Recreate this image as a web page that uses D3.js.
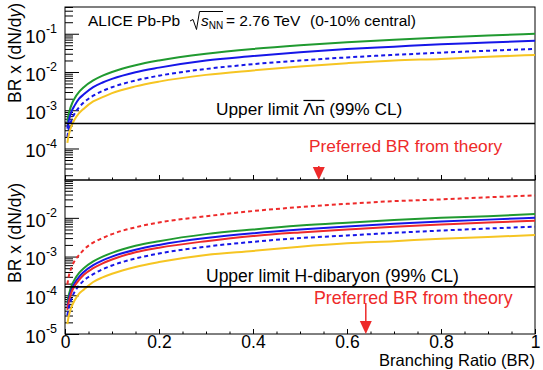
<!DOCTYPE html>
<html>
<head>
<meta charset="utf-8">
<script src="https://cdn.jsdelivr.net/npm/d3@7"></script>
<style>
  body { margin: 0; background: #fff; }
  svg text { font-family: "Liberation Sans", Arial, sans-serif; }
</style>
</head>
<body>
<div id="chart"></div>
<script>
// branching ratio sample points (x)
var br = [0.005, 0.0075, 0.01, 0.015, 0.02, 0.03, 0.04, 0.06, 0.08, 0.1, 0.15, 0.2, 0.3, 0.4, 0.5, 0.6, 0.7, 0.8, 0.9, 1.0];

// top panel: anti-Lambda n
var top_green  = [0.0005, 0.00075, 0.001, 0.0015, 0.002, 0.003, 0.004, 0.006, 0.008, 0.01, 0.015, 0.02, 0.03, 0.04, 0.05, 0.06, 0.07, 0.08, 0.09, 0.10];
var top_blue   = [0.00033, 0.0005, 0.00066, 0.001, 0.0013, 0.002, 0.0026, 0.004, 0.0053, 0.0066, 0.0099, 0.013, 0.02, 0.026, 0.033, 0.04, 0.046, 0.053, 0.059, 0.066];
var top_blue_d = [0.0002, 0.0003, 0.0004, 0.0006, 0.0008, 0.0012, 0.0016, 0.0024, 0.0032, 0.004, 0.006, 0.008, 0.012, 0.016, 0.02, 0.024, 0.028, 0.032, 0.036, 0.04];
var top_yellow = [0.00014, 0.00021, 0.00028, 0.00042, 0.00056, 0.00084, 0.0011, 0.0017, 0.0022, 0.0028, 0.0042, 0.0056, 0.0084, 0.011, 0.014, 0.017, 0.02, 0.022, 0.025, 0.028];
var top_limit = 4.5e-4;
var top_pref = 0.54;

// bottom panel: H-dibaryon
var bot_red_d  = [0.00019, 0.00029, 0.00038, 0.00057, 0.00076, 0.0011, 0.0015, 0.0023, 0.003, 0.0038, 0.0057, 0.0076, 0.011, 0.015, 0.019, 0.023, 0.027, 0.03, 0.034, 0.038];
var bot_green  = [0.000063, 0.000094, 0.000125, 0.00019, 0.00025, 0.00038, 0.0005, 0.00075, 0.001, 0.00125, 0.0019, 0.0025, 0.0038, 0.005, 0.0063, 0.0075, 0.0088, 0.01, 0.011, 0.0125];
var bot_blue   = [0.00005, 0.000075, 0.0001, 0.00015, 0.0002, 0.0003, 0.0004, 0.0006, 0.0008, 0.001, 0.0015, 0.002, 0.003, 0.004, 0.005, 0.006, 0.007, 0.008, 0.009, 0.010];
var bot_red    = [0.000042, 0.000063, 0.000084, 0.00013, 0.00017, 0.00025, 0.00034, 0.0005, 0.00067, 0.00084, 0.0013, 0.0017, 0.0025, 0.0034, 0.0042, 0.005, 0.0059, 0.0067, 0.0076, 0.0084];
var bot_blue_d = [0.00003, 0.000044, 0.000059, 0.000089, 0.00012, 0.00018, 0.00024, 0.00035, 0.00047, 0.00059, 0.00089, 0.0012, 0.0018, 0.0024, 0.003, 0.0035, 0.0041, 0.0047, 0.0053, 0.0059];
var bot_yellow = [0.000018, 0.000027, 0.000036, 0.000054, 0.000072, 0.00011, 0.00014, 0.00022, 0.00029, 0.00036, 0.00054, 0.00072, 0.0011, 0.0014, 0.0018, 0.0022, 0.0025, 0.0029, 0.0032, 0.0036];
var bot_limit = 1.65e-4;
var bot_pref = 0.64;

var x_ticks = [0, 0.2, 0.4, 0.6, 0.8, 1];
var x_labels = ["0", "0.2", "0.4", "0.6", "0.8", "1"];

var green = "#209a30", blue = "#1616e8", yellow = "#f6c522", red = "#ee2a2a";

var W = 543, H = 370;
var left = 65, right = 535;

var svg = d3.select("#chart").append("svg")
    .attr("width", W)
    .attr("height", H);

var x = d3.scaleLinear().domain([0, 1]).range([left, right]);

function drawPanel(cfg) {
    var y = d3.scaleLog().domain(cfg.domain).range([cfg.bottom, cfg.top]);
    var g = svg.append("g");

    // frame
    g.append("rect")
        .attr("x", left).attr("y", cfg.top)
        .attr("width", right - left).attr("height", cfg.bottom - cfg.top)
        .attr("fill", "none").attr("stroke", "#000").attr("stroke-width", 1);

    // log ticks: minor then major
    var all = y.ticks();
    var majors = all.filter(function(d){ return Math.abs(Math.log10(d) - Math.round(Math.log10(d))) < 1e-6; });
    var minors = all.filter(function(d){ return majors.indexOf(d) < 0; });

    g.append("g")
        .attr("transform", "translate(" + left + ",0)")
        .call(d3.axisLeft(y).tickValues(minors).tickSizeInner(-8).tickSizeOuter(0).tickFormat(""))
        .call(function(a){ a.select(".domain").remove(); });

    var ya = g.append("g")
        .attr("transform", "translate(" + left + ",0)")
        .call(d3.axisLeft(y).tickValues(majors).tickSizeInner(-14).tickSizeOuter(0).tickPadding(8))
        .call(function(a){ a.select(".domain").remove(); });
    ya.selectAll(".tick text").each(function(d){
        var t = d3.select(this).text("").attr("font-size", 18.5).attr("dy", "0.45em").attr("fill", "#000");
        t.append("tspan").text("10");
        t.append("tspan").attr("font-size", 12.5).attr("dy", "-0.75em").text(Math.round(Math.log10(d)));
    });
    g.selectAll(".tick line").attr("stroke", "#000");

    // x ticks along the panel bottom
    var xminor = d3.range(0, 1.0001, 0.05).filter(function(d){ return Math.abs(d * 5 - Math.round(d * 5)) > 1e-6; });
    g.append("g")
        .attr("transform", "translate(0," + cfg.bottom + ")")
        .call(d3.axisBottom(x).tickValues(xminor).tickSizeInner(-2.5).tickSizeOuter(0).tickFormat(""))
        .call(function(a){ a.select(".domain").remove(); a.selectAll("line").attr("stroke", "#000"); });
    var xa = g.append("g")
        .attr("transform", "translate(0," + cfg.bottom + ")")
        .call(d3.axisBottom(x).tickValues(x_ticks).tickSizeInner(-5).tickSizeOuter(0).tickPadding(2)
            .tickFormat(function(d, i){ return cfg.labels ? x_labels[i] : ""; }))
        .call(function(a){ a.select(".domain").remove(); a.selectAll("line").attr("stroke", "#000"); });
    xa.selectAll("text").attr("font-size", 17.5).attr("fill", "#000");

    // curves
    var line = d3.line()
        .curve(d3.curveMonotoneX)
        .x(function(d){ return x(d[0]); })
        .y(function(d){ return y(d[1]); });

    var clipId = "clip" + cfg.top;
    svg.append("clipPath").attr("id", clipId)
        .append("rect").attr("x", left).attr("y", cfg.top)
        .attr("width", right - left).attr("height", cfg.bottom - cfg.top);

    var cg = g.append("g").attr("clip-path", "url(#" + clipId + ")");
    cfg.series.forEach(function(s){
        cg.append("path")
            .attr("d", line(br.map(function(b, i){ return [b, s.values[i]]; })))
            .attr("fill", "none")
            .attr("stroke", s.color)
            .attr("stroke-width", 2)
            .attr("stroke-dasharray", s.dashed ? "4,3" : null);
    });

    // upper limit line
    g.append("line")
        .attr("x1", left).attr("x2", right)
        .attr("y1", y(cfg.limit)).attr("y2", y(cfg.limit))
        .attr("stroke", "#000").attr("stroke-width", 1.6);

    // preferred BR arrow
    var ax = x(cfg.pref);
    g.append("line")
        .attr("x1", ax).attr("x2", ax)
        .attr("y1", cfg.bottom - cfg.stem).attr("y2", cfg.bottom - 10)
        .attr("stroke", red).attr("stroke-width", 1.5);
    g.append("path")
        .attr("d", "M" + (ax - 6) + "," + (cfg.bottom - 13) + "L" + (ax + 6) + "," + (cfg.bottom - 13) + "L" + ax + "," + cfg.bottom + "Z")
        .attr("fill", red);

    return y;
}

drawPanel({
    top: 7, bottom: 180, domain: [1.5e-5, 0.5], labels: false,
    limit: top_limit, pref: top_pref, stem: 14,
    series: [
        {values: top_green, color: green},
        {values: top_blue, color: blue},
        {values: top_blue_d, color: blue, dashed: true},
        {values: top_yellow, color: yellow}
    ]
});

drawPanel({
    top: 180, bottom: 334, domain: [1e-5, 0.095], labels: true,
    limit: bot_limit, pref: bot_pref, stem: 31,
    series: [
        {values: bot_red_d, color: red, dashed: true},
        {values: bot_green, color: green},
        {values: bot_blue, color: blue},
        {values: bot_red, color: red},
        {values: bot_blue_d, color: blue, dashed: true},
        {values: bot_yellow, color: yellow}
    ]
});

// header
svg.append("text").attr("x", 88).attr("y", 26).attr("font-size", 15.5).attr("fill", "#000")
    .text("ALICE Pb-Pb");
svg.append("path")
    .attr("d", "M190,21 L193,19.5 L196.5,29.5 L199.5,11.5 L223,11.5")
    .attr("fill", "none").attr("stroke", "#000").attr("stroke-width", 1);
var s2 = svg.append("text").attr("x", 201).attr("y", 26).attr("font-size", 15.5).attr("fill", "#000");
s2.append("tspan").attr("font-style", "italic").text("s");
s2.append("tspan").attr("font-size", 10).attr("dy", 3).text("NN");
svg.append("text").attr("x", 226).attr("y", 26).attr("font-size", 15.5).attr("fill", "#000")
    .text("= 2.76 TeV");
svg.append("text").attr("x", 310).attr("y", 26).attr("font-size", 15.5).attr("fill", "#000")
    .text("(0-10% central)");

// upper limit labels
var ul1 = svg.append("text").attr("x", 216).attr("y", 115).attr("font-size", 17.3).attr("fill", "#000");
ul1.append("tspan").text("Upper limit ");
ul1.append("tspan").text("\u039Bn");
ul1.append("tspan").text(" (99% CL)");
(function(){
    var node = ul1.node();
    var start = node.getStartPositionOfChar(12).x;
    var end = node.getEndPositionOfChar(13).x;
    svg.append("line").attr("x1", start).attr("x2", end).attr("y1", 100.5).attr("y2", 100.5)
        .attr("stroke", "#000").attr("stroke-width", 1.2);
})();

svg.append("text").attr("x", 206).attr("y", 282).attr("font-size", 17.5).attr("fill", "#000")
    .text("Upper limit H-dibaryon (99% CL)");

svg.append("text").attr("x", 309).attr("y", 152).attr("font-size", 17.3).attr("fill", red)
    .text("Preferred BR from theory");
svg.append("text").attr("x", 314).attr("y", 304).attr("font-size", 17.8).attr("fill", red)
    .text("Preferred BR from theory");

svg.append("text").attr("x", 535).attr("y", 366).attr("text-anchor", "end").attr("font-size", 16.5).attr("fill", "#000")
    .text("Branching Ratio (BR)");

function yTitle(yStart) {
    var t = svg.append("text")
        .attr("transform", "translate(21," + yStart + ") rotate(-90)")
        .attr("font-size", 17.5).attr("fill", "#000");
    t.append("tspan").text("BR x (dN/d");
    t.append("tspan").attr("font-style", "italic").text("y");
    t.append("tspan").text(")");
}
yTitle(103);
yTitle(283);
</script>
</body>
</html>
